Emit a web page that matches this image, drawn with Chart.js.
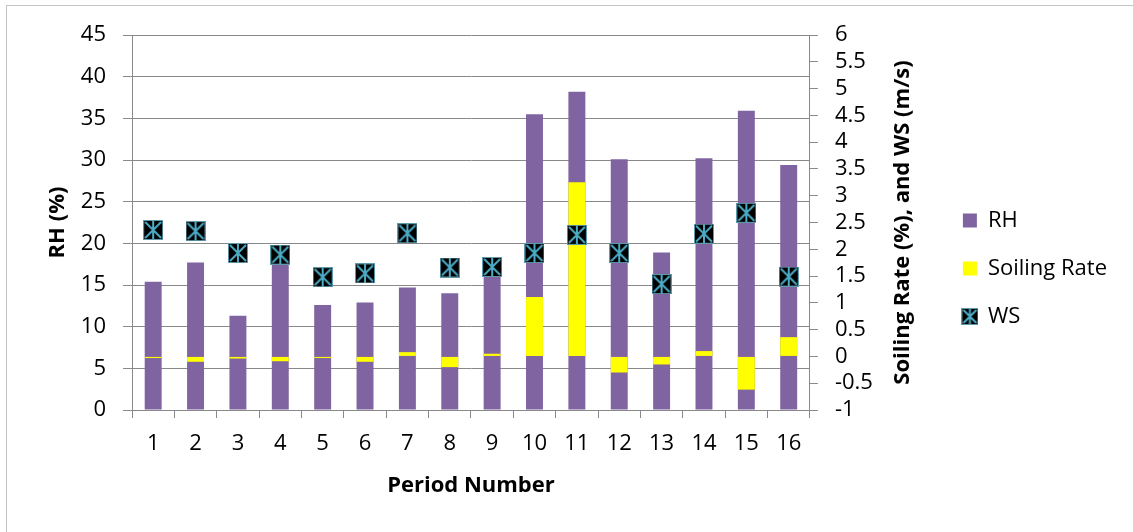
<!DOCTYPE html>
<html>
<head>
<meta charset="utf-8">
<script src="https://cdn.jsdelivr.net/npm/chart.js@4.4.1/dist/chart.umd.min.js"></script>
<style>
  html, body { margin: 0; padding: 0; background: #fff; overflow: hidden; }
  #frame { position: absolute; left: 6px; top: 5px; width: 1200px; height: 600px; border: 1px solid #c4c4c4; }
  #wrap { position: absolute; left: 0; top: 0; width: 1133px; height: 532px; }
</style>
</head>
<body>
<div id="frame"></div>
<div id="wrap"><canvas id="chart"></canvas></div>
<script>
const periods = ["1", "2", "3", "4", "5", "6", "7", "8", "9", "10", "11", "12", "13", "14", "15", "16"];
const rhValues = [15.4, 17.7, 11.3, 17.6, 12.6, 12.9, 14.7, 14.0, 16.8, 35.5, 38.2, 30.1, 18.9, 30.2, 35.9, 29.4];
const soilingValues = [-0.03, -0.1, -0.04, -0.09, -0.03, -0.1, 0.08, -0.2, 0.05, 1.11, 3.25, -0.3, -0.15, 0.1, -0.62, 0.36];
const wsValues = [2.36, 2.34, 1.93, 1.90, 1.48, 1.55, 2.30, 1.66, 1.67, 1.93, 2.27, 1.93, 1.35, 2.29, 2.68, 1.49];

const purple = "#8064a2";
const yellow = "#ffff00";
const cyan = "#4bacc6";
const gray = "#898989";

// black square with a cyan star, like the Excel marker
function starMarker(size) {
  const c = document.createElement("canvas");
  c.width = size;
  c.height = size;
  const g = c.getContext("2d");
  g.fillStyle = "#000";
  g.fillRect(0, 0, size, size);
  g.strokeStyle = "#5e9aab";
  g.lineWidth = 1;
  g.strokeRect(0.5, 0.5, size - 1, size - 1);
  g.strokeStyle = cyan;
  g.lineWidth = 2;
  g.beginPath();
  g.moveTo(2, 2); g.lineTo(size - 2, size - 2);
  g.moveTo(size - 2, 2); g.lineTo(2, size - 2);
  g.moveTo(size / 2, 1); g.lineTo(size / 2, size - 1);
  g.stroke();
  return c;
}
const bigStar = starMarker(20);
const smallStar = starMarker(17);

Chart.defaults.font.family = "'Open Sans', 'Noto Sans', sans-serif";
Chart.defaults.font.size = 22;
Chart.defaults.color = "#000";

// right axis title reads bottom-to-top in the original
const rightTitle = {
  id: "rightTitle",
  afterDraw(chart) {
    const s = chart.scales.y1;
    const ctx = chart.ctx;
    ctx.save();
    ctx.translate(s.right - 34, (s.top + s.bottom) / 2);
    ctx.rotate(-Math.PI / 2);
    ctx.font = "bold 22px 'Open Sans', 'Noto Sans', sans-serif";
    ctx.fillStyle = "#000";
    ctx.textAlign = "center";
    ctx.textBaseline = "middle";
    ctx.fillText("Soiling Rate (%), and WS (m/s)", 0, 0);
    ctx.restore();
  }
};

new Chart(document.getElementById("chart"), {
  type: "bar",
  data: {
    labels: periods,
    datasets: [
      {
        label: "RH",
        data: rhValues,
        backgroundColor: purple,
        yAxisID: "y",
        grouped: false,
        barPercentage: 0.4,
        categoryPercentage: 1,
        pointStyle: "rect",
        order: 3
      },
      {
        label: "Soiling Rate",
        data: soilingValues,
        backgroundColor: yellow,
        yAxisID: "y1",
        grouped: false,
        barPercentage: 0.4,
        categoryPercentage: 1,
        pointStyle: "rect",
        order: 2
      },
      {
        type: "line",
        label: "WS",
        data: wsValues,
        yAxisID: "y1",
        showLine: false,
        pointStyle: bigStar,
        backgroundColor: "#000",
        borderColor: cyan,
        order: 1
      }
    ]
  },
  options: {
    responsive: true,
    maintainAspectRatio: false,
    animation: false,
    layout: { padding: { top: 35, right: 16, bottom: 30, left: 0 } },
    plugins: {
      tooltip: { enabled: false },
      legend: {
        position: "right",
        labels: {
          usePointStyle: true,
          boxWidth: 14,
          boxHeight: 14,
          padding: 26,
          font: { size: 22 },
          sort: (a, b) => a.datasetIndex - b.datasetIndex,
          generateLabels(chart) {
            const items = Chart.defaults.plugins.legend.labels.generateLabels(chart);
            items.forEach(it => { if (it.text === "WS") it.pointStyle = smallStar; });
            return items;
          }
        }
      }
    },
    scales: {
      x: {
        grid: { drawOnChartArea: false, color: gray, tickLength: 8 },
        border: { color: gray },
        ticks: { padding: 13 },
        title: { display: true, text: "Period Number", font: { weight: "bold", size: 22 }, padding: { top: 0, bottom: 3 } },
        afterFit: s => { s.height = 92; }
      },
      y: {
        position: "left",
        min: 0,
        max: 45,
        ticks: { stepSize: 5, padding: 17 },
        grid: { color: gray, tickLength: 9 },
        border: { color: gray },
        title: { display: true, text: "RH (%)", font: { weight: "bold", size: 22 }, padding: { top: 45, bottom: 0 } },
        afterFit: s => { s.width = 132; }
      },
      y1: {
        position: "right",
        min: -1,
        max: 6,
        ticks: { stepSize: 0.5, padding: 17, autoSkip: false, callback: v => String(v) },
        grid: { drawOnChartArea: false, color: gray, tickLength: 8 },
        border: { color: gray },
        afterFit: s => { s.width = 127; }
      }
    }
  },
  plugins: [rightTitle]
});
</script>
</body>
</html>
